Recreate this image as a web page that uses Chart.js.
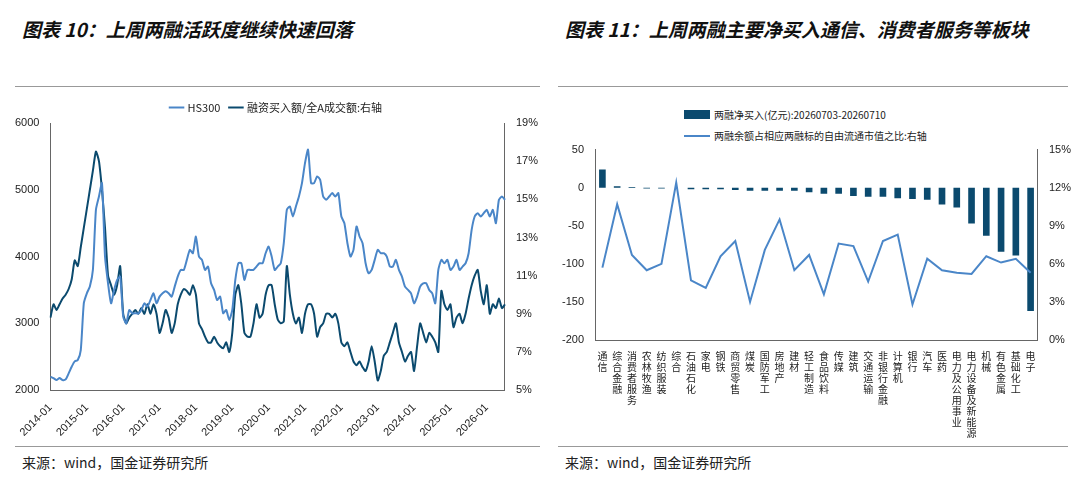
<!DOCTYPE html>
<html><head><meta charset="utf-8">
<script src="https://cdn.jsdelivr.net/npm/chart.js@4/dist/chart.umd.min.js"></script>
<style>
body{margin:0;width:1080px;height:482px;background:#fff;font-family:"Noto Sans CJK SC",sans-serif;position:relative;overflow:hidden}
.t{position:absolute;font-weight:bold;font-style:italic;font-size:19px;color:#111;line-height:34px}
.src{position:absolute;top:452px;font-size:14px;color:#222}
.hr{position:absolute;height:1px;background:#999}
.lg{position:absolute;font-size:10px;color:#222;display:flex;align-items:center}
.lg i{display:inline-block;margin-right:4px}
</style></head><body>
<div class="t" style="left:22px;top:12px;width:520px">图表 10：上周两融活跃度继续快速回落</div>
<div class="t" style="left:565px;top:12px;width:470px">图表 11：上周两融主要净买入通信、消费者服务等板块</div>
<div class="hr" style="left:15px;top:86px;width:525px"></div>
<div class="hr" style="left:558px;top:86px;width:510px"></div>
<div class="hr" style="left:15px;top:446px;width:525px"></div>
<div class="hr" style="left:558px;top:446px;width:510px"></div>
<div class="src" style="left:22px">来源：wind，国金证券研究所</div>
<div class="src" style="left:565px">来源：wind，国金证券研究所</div>
<div class="lg" style="left:684px;top:107px"><i style="width:26px;height:9px;background:#0b4a6e"></i>两融净买入(亿元):20260703-20260710</div>
<div class="lg" style="left:684px;top:128px"><i style="width:26px;height:2px;background:#4a86c8"></i>两融余额占相应两融标的自由流通市值之比:右轴</div>
<div style="position:absolute;left:0;top:92px;width:545px;height:350px"><canvas id="c1"></canvas></div>
<div style="position:absolute;left:555px;top:140px;width:525px;height:302px"><canvas id="c2"></canvas></div>
<script>
const years = [2014,2015,2016,2017,2018,2019,2020,2021,2022,2023,2024,2025,2026];
const months = [];
years.forEach(y => { for (let m = 1; m <= 12; m++) months.push(y + '-' + String(m).padStart(2,'0')); });
const dates = months.slice(0, 151);
const hs300 = [
 2200,2180,2150,2180,2150,2160,2250,2350,2430,2450,2600,3300,
 3450,3550,3800,4700,4900,5100,4000,3600,3300,3500,3650,3700,
 3100,3000,3200,3150,3150,3150,3200,3300,3250,3350,3450,3300,
 3400,3450,3480,3450,3400,3550,3700,3800,3800,3950,4100,4050,
 4300,4000,3950,3800,3850,3600,3500,3350,3400,3150,3200,3050,
 3200,3650,3900,3900,3650,3800,3800,3800,3850,3900,3900,4050,
 4150,4000,3800,3850,3900,4200,4700,4750,4600,4750,4900,5100,
 5400,5600,5100,5100,5200,5150,4900,4850,4900,4950,4900,4950,
 4600,4500,4200,4000,4100,4450,4300,4200,3900,3750,3800,3950,
 4100,4050,4050,4000,3850,3850,3950,3800,3700,3550,3500,3450,
 3300,3400,3550,3600,3600,3500,3450,3300,3800,3950,3900,3950,
 3800,3850,3950,3800,3850,3900,4050,4400,4600,4650,4600,4650,
 4700,4600,4700,4500,4850,4900,4850];
const finRatio = [
 8.8,9.5,9.2,9.5,9.8,10.0,10.3,10.8,11.8,11.5,12.5,13.5,
 14.5,15.5,16.5,17.5,17.0,15.5,13.5,11.0,10.5,10.0,10.5,11.5,
 9.0,8.5,8.8,9.0,9.2,9.0,9.3,9.0,9.5,9.0,9.5,9.0,
 8.0,8.5,9.2,8.8,8.0,8.5,9.5,10.0,10.3,10.2,10.0,10.5,
 10.0,8.5,8.2,7.8,7.5,7.5,7.8,7.5,7.3,7.2,7.5,7.0,
 8.0,10.0,10.5,9.5,8.0,7.8,7.8,8.5,9.5,8.8,9.0,10.0,
 10.5,10.5,9.5,8.7,8.5,8.6,11.5,10.0,9.0,8.5,8.8,8.0,
 9.0,9.5,9.5,9.0,7.8,8.3,8.5,9.0,9.0,8.8,9.0,8.5,
 7.5,7.3,7.5,7.0,6.5,6.3,6.5,6.2,6.0,6.5,7.3,6.5,
 5.5,6.0,6.8,7.0,7.5,8.0,8.5,7.5,7.0,6.5,6.8,7.0,
 6.0,7.3,8.5,8.0,7.5,8.0,7.8,7.5,7.0,10.2,9.5,9.2,
 9.5,8.3,8.8,9.0,8.5,9.0,9.8,10.5,11.0,11.3,10.2,9.5,
 10.5,9.0,9.5,9.3,9.8,9.3,9.5];

const sectors = ['通信','综合金融','消费者服务','农林牧渔','纺织服装','综合','石油石化','家电','钢铁','商贸零售','煤炭','国防军工','房地产','建材','轻工制造','食品饮料','传媒','建筑','交通运输','非银行金融','计算机','银行','汽车','医药','电力及公用事业','电力设备及新能源','机械','有色金属','基础化工','电子'];
const netBuy = [24,2,1,-1,-1,0,-2,-2,-2,-3,-4,-4,-4,-4,-6,-8,-8,-11,-12,-12,-14,-15,-16,-22,-26,-47,-63,-84,-89,-162];
const balanceRatio = [5.7,10.7,6.7,5.5,6.0,12.4,4.7,4.1,6.6,7.8,3.0,7.1,9.5,5.5,6.7,3.6,7.6,7.4,4.6,7.8,8.3,2.8,6.4,5.5,5.3,5.2,6.6,6.1,6.4,5.3];

const tickFont = { family: 'Liberation Sans', size: 11 };
const dark = '#0b4a6e', light = '#4a86c8';

new Chart(document.getElementById('c1'), {
  type: 'line',
  data: {
    labels: dates,
    datasets: [
      { label: 'HS300', data: hs300, borderColor: light, borderWidth: 2, pointRadius: 0, yAxisID: 'y', tension: 0.2 },
      { label: '融资买入额/全A成交额:右轴', data: finRatio, borderColor: dark, borderWidth: 2, pointRadius: 0, yAxisID: 'y1', tension: 0.2 }
    ]
  },
  options: {
    animation: false, responsive: true, maintainAspectRatio: false,
    layout: { padding: { left: 12, right: 4 } },
    plugins: {
      legend: { labels: { usePointStyle: true, pointStyle: 'line', boxWidth: 30, color: '#222', font: { family: '"Noto Sans CJK SC"', size: 11 } } }
    },
    scales: {
      x: {
        grid: { display: false, drawTicks: true }, border: { color: '#666' },
        ticks: { autoSkip: false, maxRotation: 45, minRotation: 45, color: '#222', font: tickFont,
          callback: function(v) { const l = this.getLabelForValue(v); return l.endsWith('-01') ? l : ''; } }
      },
      y: { position: 'left', min: 2000, max: 6000, grid: { display: false }, border: { color: '#666' },
        ticks: { stepSize: 1000, color: '#222', font: tickFont, callback: v => String(v) } },
      y1: { position: 'right', min: 5, max: 19, grid: { display: false }, border: { color: '#666' },
        ticks: { stepSize: 2, color: '#222', font: tickFont, callback: v => v + '%' } }
    }
  }
});

new Chart(document.getElementById('c2'), {
  data: {
    labels: sectors.map(s => s.split('')),
    datasets: [
      { type: 'line', label: 'ratio', data: balanceRatio, borderColor: light, borderWidth: 2, pointRadius: 0, yAxisID: 'y1' },
      { type: 'bar', label: 'net', data: netBuy, backgroundColor: dark, barPercentage: 0.45, categoryPercentage: 1, yAxisID: 'y' }
    ]
  },
  options: {
    animation: false, responsive: true, maintainAspectRatio: false,
    layout: { padding: { left: 4, right: 6 } },
    plugins: { legend: { display: false } },
    scales: {
      x: { grid: { display: false }, border: { color: '#666' },
        ticks: { autoSkip: false, maxRotation: 0, minRotation: 0, color: '#222', padding: 3, font: { family: '"Noto Sans CJK SC"', size: 10, lineHeight: 1.1 } } },
      y: { position: 'left', min: -200, max: 50, grid: { display: false }, border: { color: '#666' },
        ticks: { stepSize: 50, color: '#222', font: tickFont } },
      y1: { position: 'right', min: 0, max: 15, grid: { display: false }, border: { color: '#666' },
        ticks: { stepSize: 3, color: '#222', font: tickFont, callback: v => v + '%' } }
    }
  }
});
</script>
</body></html>
